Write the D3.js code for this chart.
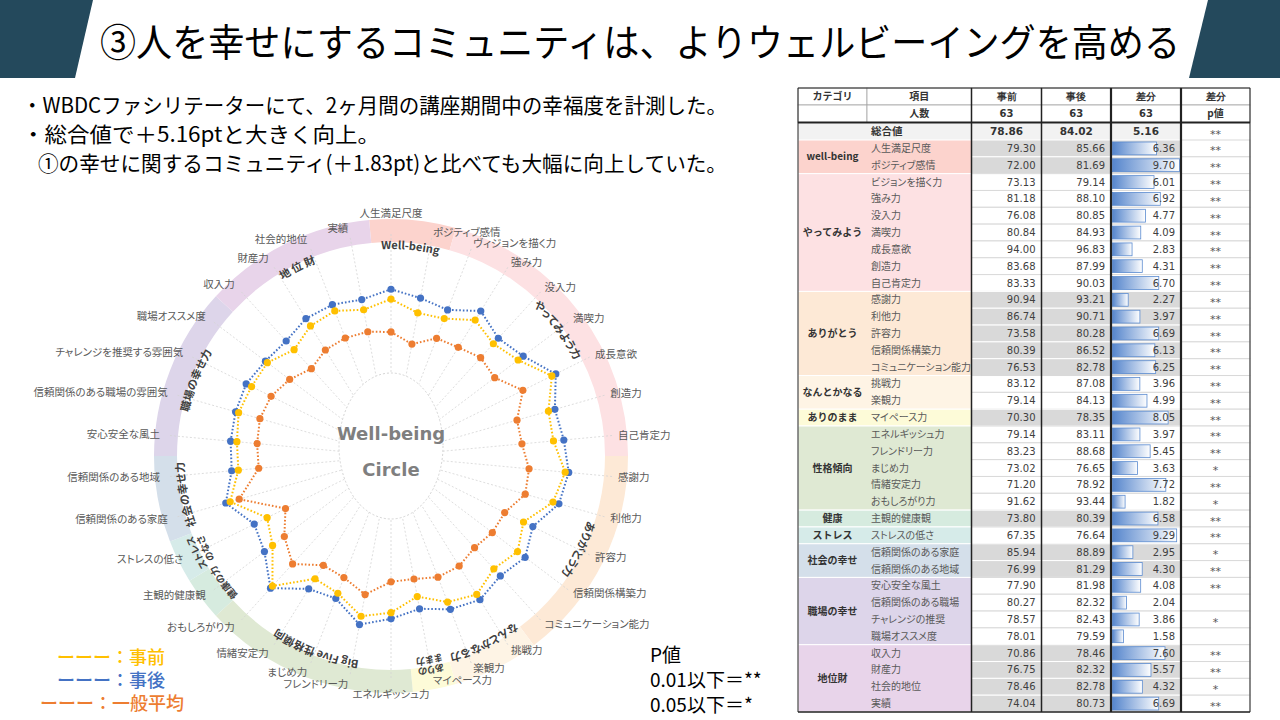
<!DOCTYPE html>
<html lang="ja">
<head>
<meta charset="UTF-8">
<title>人を幸せにするコミュニティ</title>
<script src="https://cdnjs.cloudflare.com/ajax/libs/d3/7.8.5/d3.min.js"></script>
<style>
  body { margin: 0; background: #fff; }
  svg { display: block; font-family: "Noto Sans CJK JP", "Noto Sans", sans-serif; }
  .num { font-family: "DejaVu Sans", sans-serif; }
  .palt { font-feature-settings: "palt"; }
</style>
</head>
<body>
<svg id="chart" width="1280" height="720"></svg>
<script>
// ---- データ ----
const titleText = "③人を幸せにするコミュニティは、よりウェルビーイングを高める";
const bullets = [
  "・WBDCファシリテーターにて、2ヶ月間の講座期間中の幸福度を計測した。",
  "・総合値で＋5.16ptと大きく向上。",
  "①の幸せに関するコミュニティ(＋1.83pt)と比べても大幅に向上していた。"
];

const catNames = ["well-being", "やってみよう", "ありがとう", "なんとかなる", "ありのまま",
  "性格傾向", "健康", "ストレス", "社会の幸せ", "職場の幸せ", "地位財"];
const catSizes = [2, 7, 5, 2, 1, 5, 1, 1, 2, 4, 4];
const ringLabels = [["Well-being"], ["やってみよう力"], ["ありがとう力"], ["なんとかなる力"],
  ["ありの", "まま力"], ["Big Five 性格傾向"], ["健康の力"], ["ストレス", "のなさ"],
  ["社会の幸せ力"], ["職場の幸せ力"], ["地 位 財"]];

const itemNames = ["人生満足尺度", "ポジティブ感情", "ビジョンを描く力", "強み力", "没入力", "満喫力",
  "成長意欲", "創造力", "自己肯定力", "感謝力", "利他力", "許容力", "信頼関係構築力",
  "コミュニケーション能力", "挑戦力", "楽観力", "マイペース力", "エネルギッシュ力",
  "フレンドリー力", "まじめ力", "情緒安定力", "おもしろがり力", "主観的健康観", "ストレスの低さ",
  "信頼関係のある家庭", "信頼関係のある地域", "安心安全な風土", "信頼関係のある職場",
  "チャレンジの推奨", "職場オススメ度", "収入力", "財産力", "社会的地位", "実績"];
const radarLabels = ["人生満足尺度", "ポジティブ感情", "ヴィジョンを描く力", "強み力", "没入力", "満喫力",
  "成長意欲", "創造力", "自己肯定力", "感謝力", "利他力", "許容力", "信頼関係構築力",
  "コミュニケーション能力", "挑戦力", "楽観力", "マイペース力", "エネルギッシュ力",
  "フレンドリー力", "まじめ力", "情緒安定力", "おもしろがり力", "主観的健康観", "ストレスの低さ",
  "信頼関係のある家庭", "信頼関係のある地域", "安心安全な風土", "信頼関係のある職場の雰囲気",
  "チャレンジを推奨する雰囲気", "職場オススメ度", "収入力", "財産力", "社会的地位", "実績"];

const beforeVals = [79.30, 72.00, 73.13, 81.18, 76.08, 80.84, 94.00, 83.68, 83.33, 90.94,
  86.74, 73.58, 80.39, 76.53, 83.12, 79.14, 70.30, 79.14, 83.23, 73.02, 71.20, 91.62,
  73.80, 67.35, 85.94, 76.99, 77.90, 80.27, 78.57, 78.01, 70.86, 76.75, 78.46, 74.04];
const afterVals = [85.66, 81.69, 79.14, 88.10, 80.85, 84.93, 96.83, 87.99, 90.03, 93.21,
  90.71, 80.28, 86.52, 82.78, 87.08, 84.13, 78.35, 83.11, 88.68, 76.65, 78.92, 93.44,
  80.39, 76.64, 88.89, 81.29, 81.98, 82.32, 82.43, 79.59, 78.46, 82.32, 82.78, 80.73];
const diffVals = [6.36, 9.70, 6.01, 6.92, 4.77, 4.09, 2.83, 4.31, 6.70, 2.27, 3.97, 6.69,
  6.13, 6.25, 3.96, 4.99, 8.05, 3.97, 5.45, 3.63, 7.72, 1.82, 6.58, 9.29, 2.95, 4.30,
  4.08, 2.04, 3.86, 1.58, 7.60, 5.57, 4.32, 6.69];
const pMarks = ["**", "**", "**", "**", "**", "**", "**", "**", "**", "**", "**", "**", "**",
  "**", "**", "**", "**", "**", "**", "*", "**", "*", "**", "**", "*", "**", "**", "",
  "*", "", "**", "**", "*", "**"];
// 一般平均
const avgVals = [58.1, 51.5, 59.5, 60.5, 63.9, 61.9, 73.1, 62.6, 62.9, 67.5, 68.1, 60.0,
  60.0, 58.1, 61.6, 61.9, 58.8, 59.2, 69.0, 62.2, 61.0, 72.3, 64.3, 54.1, 79.9, 63.8,
  64.8, 66.0, 64.5, 60.0, 54.3, 58.5, 59.7, 59.6];

const headerTop = ["カテゴリ", "項目", "事前", "事後", "差分", "差分"];
const headerSub = ["", "人数", "63", "63", "63", "p値"];
const totalRow = ["", "総合値", "78.86", "84.02", "5.16", "**"];

const seriesNames = ["一般平均", "事後", "事前"];
const legendTexts = ["ーーー：事前", "ーーー：事後", "ーーー：一般平均"];
const pNotes = ["P値", "0.01以下＝**", "0.05以下＝*"];

// ---- 色 ----
const catFills = ["#fcd3cd", "#fde1e3", "#fde9d6", "#fef4e5", "#fdfbd8", "#dfe9d3",
  "#d6ebdf", "#d6ebe9", "#d4dfea", "#ddd5ea", "#e8d4ea"];
const seriesColors = { "一般平均": "#ed7d31", "事後": "#4472c4", "事前": "#ffc000" };
const seriesData = { "一般平均": avgVals, "事後": afterVals, "事前": beforeVals };
const legendColors = ["#ffc000", "#4472c4", "#ed7d31"];

const svg = d3.select("#chart");
const defs = svg.append("defs");

// ---- タイトル ----
svg.append("polygon").attr("points", "0,0 93,0 75,78 0,78").attr("fill", "#24495c");
svg.append("polygon").attr("points", "1208,0 1280,0 1280,78 1189,78").attr("fill", "#24495c");
svg.append("text")
  .attr("x", 640).attr("y", 56)
  .attr("text-anchor", "middle")
  .attr("font-size", 38)
  .attr("textLength", 1080).attr("lengthAdjust", "spacingAndGlyphs")
  .attr("fill", "#000")
  .text(titleText);

// 本文
const bulletX = [22, 22, 38], bulletY = [113, 142, 171], bulletW = [705, 358, 689];
bullets.forEach((t, i) => {
  svg.append("text")
    .attr("x", bulletX[i]).attr("y", bulletY[i])
    .attr("font-size", 21)
    .attr("textLength", bulletW[i]).attr("lengthAdjust", "spacingAndGlyphs")
    .text(t);
});

// ---- レーダー ----
const cx = 391, cy = 456;
const n = itemNames.length;
const step = 2 * Math.PI / n;
const rScale = d3.scaleLinear().domain([0, 100]).range([34, 189]);
const g = svg.append("g").attr("transform", `translate(${cx},${cy})`);

// カテゴリのリング
const segs = [];
let startIdx = 0;
catSizes.forEach((s, i) => {
  segs.push({ i, a0: (startIdx - 0.5) * step, a1: (startIdx + s - 0.5) * step });
  startIdx += s;
});
const ringArc = d3.arc().innerRadius(214).outerRadius(237);
g.selectAll("path.seg").data(segs).join("path")
  .attr("class", "seg")
  .attr("d", d => ringArc({ startAngle: d.a0, endAngle: d.a1 }))
  .attr("fill", d => catFills[d.i]);

// 放射線
g.selectAll("line.spoke").data(d3.range(n)).join("line")
  .attr("class", "spoke")
  .attr("x1", 0).attr("y1", 0)
  .attr("x2", i => 222 * Math.sin(i * step))
  .attr("y2", i => -222 * Math.cos(i * step))
  .attr("stroke", "#d4d4d4")
  .attr("stroke-width", 0.8)
  .attr("stroke-dasharray", "2,2");

// 中央の楕円
g.append("ellipse")
  .attr("cx", 0).attr("cy", -10).attr("rx", 52).attr("ry", 73)
  .attr("fill", "#fff").attr("stroke", "#d4d4d4").attr("stroke-dasharray", "2,2");
g.append("text").attr("class", "num").attr("x", 0).attr("y", -16)
  .attr("text-anchor", "middle").attr("font-size", 18).attr("font-weight", "bold")
  .attr("fill", "#7f7f7f").text("Well-being");
g.append("text").attr("class", "num").attr("x", 0).attr("y", 20)
  .attr("text-anchor", "middle").attr("font-size", 18).attr("font-weight", "bold")
  .attr("fill", "#7f7f7f").text("Circle");

// リングの文字
ringLabels.forEach((lines, i) => {
  const m = (segs[i].a0 + segs[i].a1) / 2;
  const narrow = catSizes[i] === 1;
  lines.forEach((t, k) => {
    const R = lines.length === 1 ? 207 : (k === 0 ? 214 : 204);
    const a0 = m - Math.PI / 2, a1 = m + Math.PI / 2;
    const p = `M${R * Math.sin(a0)},${-R * Math.cos(a0)} A${R},${R} 0 0 1 ${R * Math.sin(a1)},${-R * Math.cos(a1)}`;
    defs.append("path").attr("id", `ring${i}_${k}`).attr("d", p);
    g.append("text")
      .attr("class", "palt")
      .attr("font-size", narrow ? 9.5 : 11).attr("font-weight", "bold").attr("fill", "#404040")
      .append("textPath")
      .attr("href", `#ring${i}_${k}`)
      .attr("startOffset", "50%").attr("text-anchor", "middle")
      .text(t);
  });
});

// 系列
const radial = d3.lineRadial()
  .angle((d, i) => i * step)
  .radius(d => rScale(d))
  .curve(d3.curveLinearClosed);

seriesNames.forEach(name => {
  const vals = seriesData[name];
  g.append("path")
    .attr("d", radial(vals))
    .attr("fill", "none")
    .attr("stroke", seriesColors[name])
    .attr("stroke-width", 2)
    .attr("stroke-dasharray", "1.6,2");
  g.selectAll(null).data(vals).join("circle")
    .attr("cx", (d, i) => rScale(d) * Math.sin(i * step))
    .attr("cy", (d, i) => -rScale(d) * Math.cos(i * step))
    .attr("r", 3.6)
    .attr("fill", seriesColors[name]);
});

// 項目ラベル
radarLabels.forEach((t, i) => {
  const s = Math.sin(i * step), c = Math.cos(i * step);
  const mid = Math.abs(s) < 0.1;
  const R = mid ? (c > 0 ? 243 : 238) : (s < 0 ? 232 : 228);
  g.append("text")
    .attr("class", "palt")
    .attr("x", R * s).attr("y", -R * c)
    .attr("dy", "0.35em")
    .attr("text-anchor", mid ? "middle" : (s > 0 ? "start" : "end"))
    .attr("font-size", 10.5)
    .attr("fill", "#595959")
    .text(t);
});

// 凡例
const legX = [57, 57, 40], legY = [664, 687, 710];
legendTexts.forEach((t, i) => {
  svg.append("text")
    .attr("x", legX[i]).attr("y", legY[i])
    .attr("font-size", 18).attr("font-weight", 500)
    .attr("fill", legendColors[i])
    .text(t);
});
pNotes.forEach((t, i) => {
  svg.append("text")
    .attr("x", 650).attr("y", 662 + i * 25)
    .attr("font-size", 19)
    .attr("fill", "#000")
    .text(t);
});

// ---- 表 ----
const colX = [798, 867, 971.5, 1041.5, 1111, 1181, 1250];
const colMid = i => (colX[i] + colX[i + 1]) / 2;
const tableTop = 88, subTop = 105, totalTop = 123.5, rowTop = 140, tableBottom = 712;
const rowH = (tableBottom - rowTop) / n;
const tbl = svg.append("g");

// ヘッダ
[[headerTop, tableTop, subTop], [headerSub, subTop, 122.5]].forEach(([texts, y0, y1]) => {
  texts.forEach((t, i) => {
    tbl.append("rect")
      .attr("x", colX[i]).attr("y", y0)
      .attr("width", colX[i + 1] - colX[i]).attr("height", y1 - y0)
      .attr("fill", "#fff").attr("stroke", "#a6a6a6").attr("stroke-width", 0.8);
    tbl.append("text")
      .attr("class", i >= 2 && t !== "p値" ? "num" : "")
      .attr("x", colMid(i)).attr("y", (y0 + y1) / 2).attr("dy", "0.35em")
      .attr("text-anchor", "middle")
      .attr("font-size", 10).attr("font-weight", "bold").attr("fill", "#333")
      .text(t);
  });
});

// 総合値
tbl.append("rect").attr("x", colX[0]).attr("y", totalTop)
  .attr("width", colX[5] - colX[0]).attr("height", rowTop - totalTop)
  .attr("fill", "#f2f2f2");
tbl.append("rect").attr("x", colX[5]).attr("y", totalTop)
  .attr("width", colX[6] - colX[5]).attr("height", rowTop - totalTop)
  .attr("fill", "#fff");
totalRow.forEach((t, i) => {
  if (!t) return;
  tbl.append("text")
    .attr("class", i >= 2 ? "num" : "")
    .attr("x", i === 1 ? colX[1] + 4 : colMid(i))
    .attr("y", (totalTop + rowTop) / 2).attr("dy", i === 5 ? "0.55em" : "0.35em")
    .attr("text-anchor", i === 1 ? "start" : "middle")
    .attr("font-size", i === 5 ? 11 : 10.5)
    .attr("font-weight", i === 5 ? "normal" : "bold")
    .attr("fill", i === 5 ? "#555" : "#333")
    .text(t);
});

// 明細
const catOf = [];
catSizes.forEach((s, ci) => { for (let k = 0; k < s; k++) catOf.push(ci); });
const rowY = i => rowTop + i * rowH;
const barScale = d3.scaleLinear().domain([0, d3.max(diffVals)]).range([0, colX[5] - colX[4] - 3]);

const grad = defs.append("linearGradient").attr("id", "barGrad");
grad.append("stop").attr("offset", "0%").attr("stop-color", "#5585cc");
grad.append("stop").attr("offset", "100%").attr("stop-color", "#ffffff");

let first = 0;
catSizes.forEach((s, ci) => {
  const y0 = rowY(first), y1 = rowY(first + s);
  tbl.append("rect").attr("x", colX[0]).attr("y", y0)
    .attr("width", colX[2] - colX[0]).attr("height", y1 - y0)
    .attr("fill", catFills[ci]).attr("stroke", "#fff").attr("stroke-width", 1);
  tbl.append("text")
    .attr("x", colMid(0)).attr("y", (y0 + y1) / 2).attr("dy", "0.35em")
    .attr("text-anchor", "middle")
    .attr("font-size", 10).attr("font-weight", "bold").attr("fill", "#333")
    .text(catNames[ci]);
  first += s;
});

itemNames.forEach((name, i) => {
  const y0 = rowY(i), grey = catOf[i] % 2 === 0;
  const fill = grey ? "#d9d9d9" : "#fff";
  const line = grey ? "#fff" : "#d9d9d9";
  [2, 3, 4].forEach(c => {
    tbl.append("rect").attr("x", colX[c]).attr("y", y0)
      .attr("width", colX[c + 1] - colX[c]).attr("height", rowH)
      .attr("fill", fill).attr("stroke", line).attr("stroke-width", 1);
  });
  tbl.append("rect").attr("x", colX[5]).attr("y", y0)
    .attr("width", colX[6] - colX[5]).attr("height", rowH)
    .attr("fill", "#fff").attr("stroke", "#d9d9d9").attr("stroke-width", 1);

  tbl.append("text").attr("class", "palt")
    .attr("x", colX[1] + 4).attr("y", y0 + rowH / 2).attr("dy", "0.35em")
    .attr("font-size", 10).attr("fill", "#595959").text(name);
  [[beforeVals[i], 2], [afterVals[i], 3]].forEach(([v, c]) => {
    tbl.append("text").attr("class", "num")
      .attr("x", colX[c + 1] - 6).attr("y", y0 + rowH / 2).attr("dy", "0.35em")
      .attr("text-anchor", "end").attr("font-size", 10).attr("fill", "#404040")
      .text(v.toFixed(2));
  });
  tbl.append("rect")
    .attr("x", colX[4] + 1.5).attr("y", y0 + 2)
    .attr("width", barScale(diffVals[i])).attr("height", rowH - 4)
    .attr("fill", "url(#barGrad)").attr("stroke", "#5b8bd0").attr("stroke-width", 0.8);
  tbl.append("text").attr("class", "num")
    .attr("x", colX[5] - 6).attr("y", y0 + rowH / 2).attr("dy", "0.35em")
    .attr("text-anchor", "end").attr("font-size", 10).attr("fill", "#404040")
    .text(diffVals[i].toFixed(2));
  tbl.append("text").attr("class", "num")
    .attr("x", colMid(5)).attr("y", y0 + rowH / 2).attr("dy", "0.55em")
    .attr("text-anchor", "middle").attr("font-size", 11).attr("fill", "#555")
    .text(pMarks[i]);
});

// 罫線
const vLines = [[colX[0], 1], [colX[2], 1.5], [colX[3], 1.5], [colX[4], 2.2], [colX[5], 2.2], [colX[6], 1]];
vLines.forEach(([x, w]) => {
  tbl.append("line").attr("x1", x).attr("x2", x)
    .attr("y1", tableTop).attr("y2", tableBottom)
    .attr("stroke", "#222").attr("stroke-width", w);
});
[[tableTop, 1], [122.5, 2], [tableBottom, 1.5]].forEach(([y, w]) => {
  tbl.append("line").attr("x1", colX[0]).attr("x2", colX[6])
    .attr("y1", y).attr("y2", y)
    .attr("stroke", "#222").attr("stroke-width", w);
});
</script>
</body>
</html>
